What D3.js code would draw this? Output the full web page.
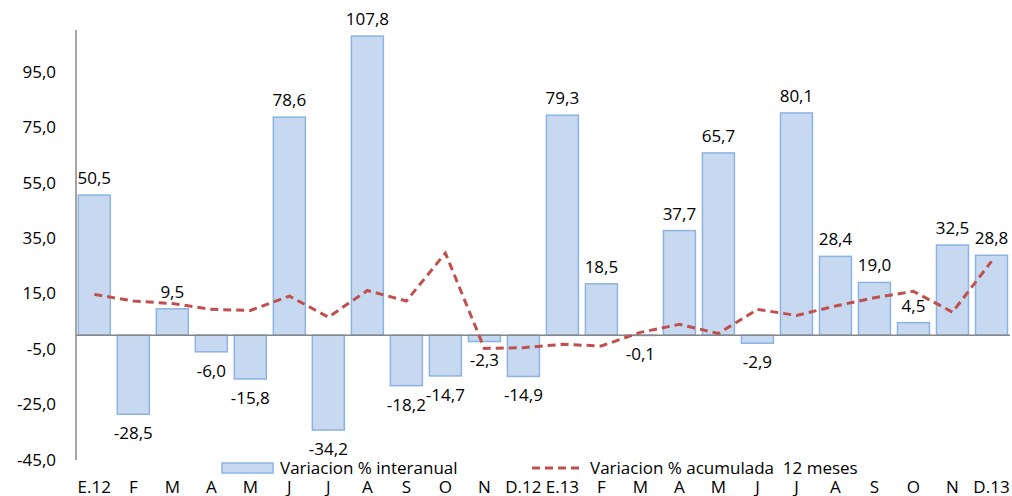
<!DOCTYPE html>
<html>
<head>
<meta charset="utf-8">
<script src="https://cdn.jsdelivr.net/npm/d3@7"></script>
<style>
	body { margin: 0; background: #fff; }
	text { font-family: "Open Sans", Lato, sans-serif; font-size: 17px; fill: #000; white-space: pre; }
</style>
</head>
<body>
<div id="chart"></div>
<script>
var months = ["E.12","F","M","A","M","J","J","A","S","O","N","D.12","E.13","F","M","A","M","J","J","A","S","O","N","D.13"];
var interanual = [50.5,-28.5,9.5,-6.0,-15.8,78.6,-34.2,107.8,-18.2,-14.7,-2.3,-14.9,79.3,18.5,-0.1,37.7,65.7,-2.9,80.1,28.4,19.0,4.5,32.5,28.8];
var acumulada = [14.7,12.3,11.4,9.3,8.9,14.1,6.5,16.1,12.3,29.6,-4.8,-4.5,-3.3,-3.9,1.0,3.9,0.6,9.3,7.1,10.5,13.5,15.8,8.3,26.6];
var yTicks = [-45,-25,-5,15,35,55,75,95];
var legendNames = ["Variacion % interanual","Variacion % acumulada  12 meses"];

var width = 1012, height = 496;
var fmt = function(v){ return d3.format(".1f")(v).replace(".", ",").replace("−", "-"); };

var svg = d3.select("#chart").append("svg")
	.attr("width", width)
	.attr("height", height);

var keys = months.map(function(d, i){ return i; });
var x = d3.scaleBand()
	.domain(keys)
	.range([74.8, 1011])
	.paddingInner(0.18)
	.paddingOuter(0.09);
var y = d3.scaleLinear()
	.domain([-45, 110])
	.range([460, 30]);

// y axis labels
svg.append("g").selectAll("text").data(yTicks).enter()
	.append("text")
	.attr("x", 56)
	.attr("y", function(d){ return y(d); })
	.attr("dy", "0.35em")
	.attr("text-anchor", "end")
	.text(fmt);

// bars
svg.append("g").selectAll("rect").data(interanual).enter()
	.append("rect")
	.attr("x", function(d, i){ return x(i); })
	.attr("y", function(d){ return y(Math.max(0, d)); })
	.attr("width", x.bandwidth())
	.attr("height", function(d){ return Math.abs(y(d) - y(0)); })
	.attr("fill", "#c6d9f1")
	.attr("stroke", "#8db3e2")
	.attr("stroke-width", 1.5);

// axes lines
svg.append("line")
	.attr("x1", 76).attr("x2", 76)
	.attr("y1", 30).attr("y2", 460)
	.attr("stroke", "#868686").attr("stroke-width", 1.5);
svg.append("line")
	.attr("x1", 76).attr("x2", 1010)
	.attr("y1", y(0)).attr("y2", y(0))
	.attr("stroke", "#868686").attr("stroke-width", 1.5);

// cumulative line
var line = d3.line()
	.x(function(d, i){ return x(i) + x.bandwidth() / 2; })
	.y(function(d){ return y(d); });
svg.append("path")
	.datum(acumulada)
	.attr("d", line)
	.attr("fill", "none")
	.attr("stroke", "#c0504d")
	.attr("stroke-width", 3)
	.attr("stroke-dasharray", "8,5");

// data labels
svg.append("g").selectAll("text").data(interanual).enter()
	.append("text")
	.attr("x", function(d, i){ return x(i) + x.bandwidth() / 2; })
	.attr("y", function(d){ return d >= 0 ? y(d) - 17 : y(d) + 19; })
	.attr("dy", "0.35em")
	.attr("text-anchor", "middle")
	.text(fmt);

// x labels
svg.append("g").selectAll("text").data(months).enter()
	.append("text")
	.attr("x", function(d, i){ return x(i) + x.bandwidth() / 2; })
	.attr("y", 487)
	.attr("dy", "0.35em")
	.attr("text-anchor", "middle")
	.text(function(d){ return d; });

// legend
var lg = svg.append("g");
lg.append("rect")
	.attr("x", 222).attr("y", 463)
	.attr("width", 51).attr("height", 10)
	.attr("fill", "#c6d9f1").attr("stroke", "#8db3e2").attr("stroke-width", 1.5);
lg.append("text")
	.attr("x", 280).attr("y", 468).attr("dy", "0.35em")
	.text(legendNames[0]);
lg.append("line")
	.attr("x1", 532).attr("x2", 583)
	.attr("y1", 468).attr("y2", 468)
	.attr("stroke", "#c0504d").attr("stroke-width", 3)
	.attr("stroke-dasharray", "8,5");
lg.append("text")
	.attr("x", 590).attr("y", 468).attr("dy", "0.35em")
	.text(legendNames[1]);
</script>
</body>
</html>
